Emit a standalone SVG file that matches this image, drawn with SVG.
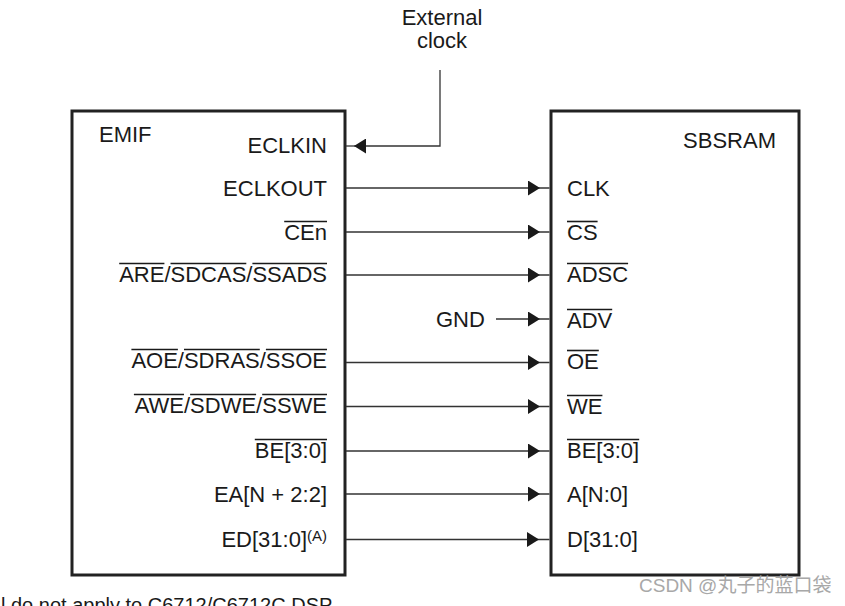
<svg xmlns="http://www.w3.org/2000/svg" width="845" height="606" viewBox="0 0 845 606">
<style>
text{font-family:"Liberation Sans",Arial,sans-serif;font-size:22px;fill:#1a1a1a}
.box{fill:#fff;stroke:#222;stroke-width:3}
.r{text-anchor:end}
.ov{stroke:#1a1a1a;stroke-width:1.6}
.w{stroke:#333;stroke-width:1.3;fill:none}
.wm{font-family:"Liberation Sans","Noto Sans CJK SC",sans-serif;font-size:19px;fill:#a8a8a8}
</style>
<defs>
<marker id="ah" markerUnits="userSpaceOnUse" markerWidth="12" markerHeight="15" refX="12" refY="7.5" orient="auto">
<path d="M0,0 L12,7.5 L0,15 z" fill="#1a1a1a"/>
</marker>
</defs>
<rect width="845" height="606" fill="#fff"/>
<g id="ext-clock">
<text x="442" y="25" text-anchor="middle">External</text>
<text x="442" y="48" text-anchor="middle">clock</text>
</g>
<g id="emif">
<rect class="box" x="72" y="111" width="273" height="464"/>
<text x="99" y="142">EMIF</text>
<text class="r" x="327" y="153">ECLKIN</text>
<text class="r" x="327" y="196">ECLKOUT</text>
<text class="r" x="327" y="240">CEn</text>
<line class="ov" x1="284.2" y1="221.5" x2="327" y2="221.5"/>
<text class="r" x="327" y="282">ARE/SDCAS/SSADS</text>
<line class="ov" x1="119.2" y1="263.5" x2="164.4" y2="263.5"/>
<line class="ov" x1="170.5" y1="263.5" x2="246.3" y2="263.5"/>
<line class="ov" x1="252.4" y1="263.5" x2="327" y2="263.5"/>
<text class="r" x="327" y="368">AOE/SDRAS/SSOE</text>
<line class="ov" x1="131.4" y1="349.5" x2="177.9" y2="349.5"/>
<line class="ov" x1="184" y1="349.5" x2="259.8" y2="349.5"/>
<line class="ov" x1="265.9" y1="349.5" x2="327" y2="349.5"/>
<text class="r" x="327" y="413">AWE/SDWE/SSWE</text>
<line class="ov" x1="133.9" y1="394.5" x2="184" y2="394.5"/>
<line class="ov" x1="190.1" y1="394.5" x2="256.1" y2="394.5"/>
<line class="ov" x1="262.2" y1="394.5" x2="327" y2="394.5"/>
<text class="r" x="327" y="458">BE[3:0]</text>
<line class="ov" x1="254.8" y1="439.5" x2="327" y2="439.5"/>
<text class="r" x="327" y="502">EA[N + 2:2]</text>
<text class="r" x="327" y="547">ED[31:0]<tspan font-size="15" dy="-6">(A)</tspan></text>
</g>
<g id="sbsram">
<rect class="box" x="551" y="111" width="248" height="464"/>
<text class="r" x="776" y="148">SBSRAM</text>
<text x="567" y="196">CLK</text>
<text x="567" y="240">CS</text>
<line class="ov" x1="567" y1="221.5" x2="597.6" y2="221.5"/>
<text x="567" y="282">ADSC</text>
<line class="ov" x1="567" y1="263.5" x2="628.1" y2="263.5"/>
<text x="567" y="328">ADV</text>
<line class="ov" x1="567" y1="309.5" x2="612.2" y2="309.5"/>
<text x="567" y="369">OE</text>
<line class="ov" x1="567" y1="350.5" x2="598.8" y2="350.5"/>
<text x="567" y="414">WE</text>
<line class="ov" x1="567" y1="395.5" x2="602.4" y2="395.5"/>
<text x="567" y="458">BE[3:0]</text>
<line class="ov" x1="567" y1="439.5" x2="639.2" y2="439.5"/>
<text x="567" y="502">A[N:0]</text>
<text x="567" y="547">D[31:0]</text>
</g>
<g id="gnd">
<text x="436" y="327">GND</text>
</g>
<g id="connectors">
<path class="w" d="M440 70 V146 H354" marker-end="url(#ah)"/>
<path class="w" d="M354 146 H346"/>
<path class="w" d="M346 188 H540 H549.5" marker-mid="url(#ah)"/>
<path class="w" d="M346 232 H540 H549.5" marker-mid="url(#ah)"/>
<path class="w" d="M346 275 H540 H549.5" marker-mid="url(#ah)"/>
<path class="w" d="M496 319 H540 H549.5" marker-mid="url(#ah)"/>
<path class="w" d="M346 362.5 H540 H549.5" marker-mid="url(#ah)"/>
<path class="w" d="M346 406.5 H540 H549.5" marker-mid="url(#ah)"/>
<path class="w" d="M346 451 H540 H549.5" marker-mid="url(#ah)"/>
<path class="w" d="M346 494 H540 H549.5" marker-mid="url(#ah)"/>
<path class="w" d="M346 539.5 H539 H549.5" marker-mid="url(#ah)"/>
</g>
<text x="1" y="612" font-size="20" style="font-size:20px">l do not apply to C6712/C6712C DSP</text>
<text class="wm" x="639" y="592">CSDN @丸子的蓝口袋</text>
</svg>
